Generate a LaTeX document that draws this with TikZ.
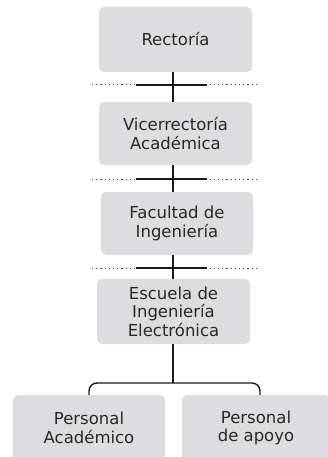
\documentclass[tikz,border=0pt]{standalone}
\usepackage{fontspec}
\setmainfont{DejaVu Sans}
\usepackage{tikz}
\usetikzlibrary{positioning,calc}
\definecolor{boxgray}{RGB}{221,221,223}
\definecolor{inkgray}{RGB}{40,40,40}

\begin{document}
\begin{tikzpicture}[x=1pt,y=-1pt,
    unit/.style={fill=boxgray,rounded corners=5pt,align=center,text=inkgray,
      font=\fontsize{16.5}{18.5}\selectfont,inner sep=0pt},
    link/.style={line width=1.4pt,black!90},
    sep/.style={line width=1pt,black!70,dash pattern=on 1.2pt off 3pt}]
      \useasboundingbox (0,0) rectangle (328,457);
      % Boxes
      \node[unit,minimum width=153pt,minimum height=65pt] (rect) at (175.5,39.5) {Rectoría};
      \node[unit,minimum width=153pt,minimum height=63pt] (vice) at (175.5,133.5) {Vicerrectoría\\Académica};
      \node[unit,minimum width=152pt,minimum height=63pt] (fac) at (177,223.5) {Facultad de\\Ingeniería};
      \node[unit,minimum width=153pt,minimum height=65pt] (esc) at (173.5,311.5) {Escuela de\\Ingeniería\\Electrónica};
      \node[unit,minimum width=152pt,minimum height=66pt] (pacad) at (89,428) {Personal\\Académico};
      \node[unit,minimum width=148pt,minimum height=66pt] (papoyo) at (256,428) {Personal\\de apoyo};
      % Spine and bracket
      \coordinate (spine) at (173,0);
      \coordinate (bar) at (173,383);
      % Dotted levels
      \draw[sep] (92,85) -- (257,85);
      \draw[link] (136,85) -- (207,85);
      \draw[sep] (92,179) -- (257,179);
      \draw[link] (136,179) -- (207,179);
      \draw[sep] (92,268) -- (257,268);
      \draw[link] (136,268) -- (207,268);
      % Connectors
      \draw[link] (rect.south -| spine) -- (vice.north -| spine);
      \draw[link] (vice.south -| spine) -- (fac.north -| spine);
      \draw[link] (fac.south -| spine) -- (esc.north -| spine);
      \draw[link] (esc.south -| spine) -- (bar);
      \draw[link,rounded corners=8pt] (pacad.north) -- (pacad.north |- bar)
        -- ([xshift=4pt]papoyo.north |- bar) -- ([xshift=4pt]papoyo.north);
    \end{tikzpicture}
\end{document}
